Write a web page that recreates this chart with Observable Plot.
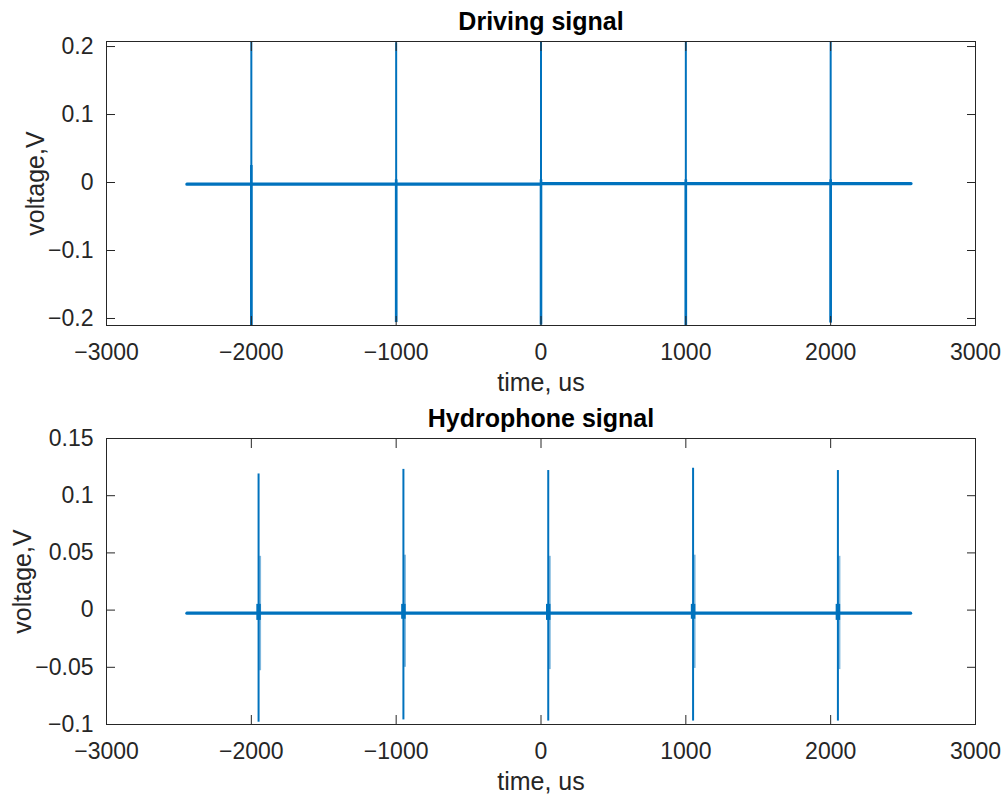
<!DOCTYPE html>
<html><head><meta charset="utf-8">
<script src="https://cdn.jsdelivr.net/npm/d3@7"></script>
<script src="https://cdn.jsdelivr.net/npm/@observablehq/plot@0.6"></script>
<style>
body{margin:0;background:#fff;}
#chart{position:relative;width:1004px;height:797px;background:#fff;}
#chart svg{display:block;}
</style></head><body><div id="chart"></div>
<script>
// ---- data ----
const xTicks = [-3000, -2000, -1000, 0, 1000, 2000, 3000];
const driveTicksY = [-0.2, -0.1, 0, 0.1, 0.2];
const hydroTicksY = [-0.1, -0.05, 0, 0.05, 0.1, 0.15];

const driveBaseT = [-2445, -1, 1, 2555];
const driveBaseV = [-0.0025, -0.0025, -0.0015, -0.0015];
const driveSpikeT = [-2000, -1000, 0, 1000, 2000];
const driveSpikeMax = [0.2074, 0.2055, 0.2074, 0.2070, 0.2060];
const driveSpikeMin = [-0.2103, -0.2060, -0.2095, -0.2103, -0.2065];
const driveNearMax = [0.025, 0.004, 0.004, 0.004, 0.004];

const hydroBaseT = [-2445, 2552];
const hydroBaseV = [-0.0027, -0.0027];
const hydroSpikeT = [-1950, -950, 50, 1050, 2050];
const hydroSpikeMax = [0.119, 0.123, 0.122, 0.124, 0.122];
const hydroSpikeMin = [-0.098, -0.096, -0.097, -0.097, -0.097];
const hydroRingMax = [0.047, 0.048, 0.047, 0.048, 0.047];
const hydroRingMin = [-0.053, -0.050, -0.052, -0.051, -0.052];
const hydroBlobMax = [0.005, 0.005, 0.005, 0.005, 0.005];
const hydroBlobMin = [-0.009, -0.008, -0.009, -0.008, -0.009];

// ---- drawing ----
const BLUE = "#0072BD";
const INK = "#262626";
const FONT = "'Liberation Sans', Arial, Helvetica, sans-serif";
const fmt = d => String(d).replace("-", "\u2212");

const driveBase = driveBaseT.map((t, i) => ({t, v: driveBaseV[i]}));
const driveSpikes = driveSpikeT.map((t, i) => ({t, lo: driveSpikeMin[i], hi: driveSpikeMax[i], near: driveNearMax[i]}));
const hydroBase = hydroBaseT.map((t, i) => ({t, v: hydroBaseV[i]}));
const hydroSpikes = hydroSpikeT.map((t, i) => ({
  t, lo: hydroSpikeMin[i], hi: hydroSpikeMax[i],
  rlo: hydroRingMin[i], rhi: hydroRingMax[i],
  blo: hydroBlobMin[i], bhi: hydroBlobMax[i]
}));

function axesMarks(yTicks, title, ylabelDx) {
  return [
    Plot.frame({stroke: INK, strokeWidth: 1}),
    Plot.axisX({ticks: xTicks, anchor: "bottom", tickSize: -9, tickFormat: () => "", stroke: INK, label: null}),
    Plot.axisX({ticks: xTicks, anchor: "top", tickSize: -9, tickFormat: () => "", stroke: INK, label: null}),
    Plot.axisY({ticks: yTicks, anchor: "left", tickSize: -9, tickFormat: () => "", stroke: INK, label: null}),
    Plot.axisY({ticks: yTicks, anchor: "right", tickSize: -9, tickFormat: () => "", stroke: INK, label: null}),
    Plot.axisX({ticks: xTicks, anchor: "bottom", tickSize: 0, tickPadding: 18, tickFormat: fmt, fill: INK, fontSize: 23, label: null}),
    Plot.axisY({ticks: yTicks, anchor: "left", tickSize: 0, tickPadding: 13, tickFormat: fmt, fill: INK, fontSize: 23, label: null}),
    Plot.text(["time, us"], {text: d => d, frameAnchor: "bottom", lineAnchor: "middle", textAnchor: "middle", dy: 57, fontSize: 25, fill: INK}),
    Plot.text(["voltage,V"], {text: d => d, frameAnchor: "left", lineAnchor: "middle", textAnchor: "middle", rotate: -90, dx: ylabelDx, fontSize: 25, fill: INK}),
    Plot.text([title], {text: d => d, frameAnchor: "top", lineAnchor: "middle", textAnchor: "middle", dy: -20, fontSize: 25, fontWeight: "bold", fill: "#000"})
  ];
}

const topPanel = Plot.plot({
  width: 1004, height: 397,
  marginTop: 41, marginBottom: 72, marginLeft: 106, marginRight: 29,
  style: {fontFamily: FONT, fontSize: "23px", color: INK, background: "white", overflow: "visible"},
  x: {domain: [-3000, 3000]},
  y: {domain: [d3.min(driveSpikeMin), d3.max(driveSpikeMax)]},
  marks: [
    Plot.line(driveBase, {x: "t", y: "v", stroke: BLUE, strokeWidth: 3.2}),
    Plot.ruleX(driveSpikes, {x: "t", y1: "lo", y2: "hi", stroke: BLUE, strokeWidth: 2}),
    Plot.ruleX(driveSpikes, {x: "t", y1: "lo", y2: "near", stroke: BLUE, strokeWidth: 2.6}),
    ...axesMarks(driveTicksY, "Driving signal", -71)
  ]
});

const bottomPanel = Plot.plot({
  width: 1004, height: 400,
  marginTop: 41, marginBottom: 73, marginLeft: 106, marginRight: 29,
  style: {fontFamily: FONT, fontSize: "23px", color: INK, background: "white", overflow: "visible"},
  x: {domain: [-3000, 3000]},
  y: {domain: [-0.1, 0.15]},
  marks: [
    Plot.line(hydroBase, {x: "t", y: "v", stroke: BLUE, strokeWidth: 3.2}),
    Plot.ruleX(hydroSpikes, {x: "t", y1: "lo", y2: "hi", stroke: BLUE, strokeWidth: 2}),
    Plot.ruleX(hydroSpikes, {x: "t", y1: "rlo", y2: "rhi", stroke: BLUE, strokeWidth: 2, dx: 1.5, strokeOpacity: 0.5}),
    Plot.ruleX(hydroSpikes, {x: "t", y1: "blo", y2: "bhi", stroke: BLUE, strokeWidth: 4.5}),
    ...axesMarks(hydroTicksY, "Hydrophone signal", -84)
  ]
});

document.getElementById("chart").append(topPanel, bottomPanel);
</script>
</body></html>
